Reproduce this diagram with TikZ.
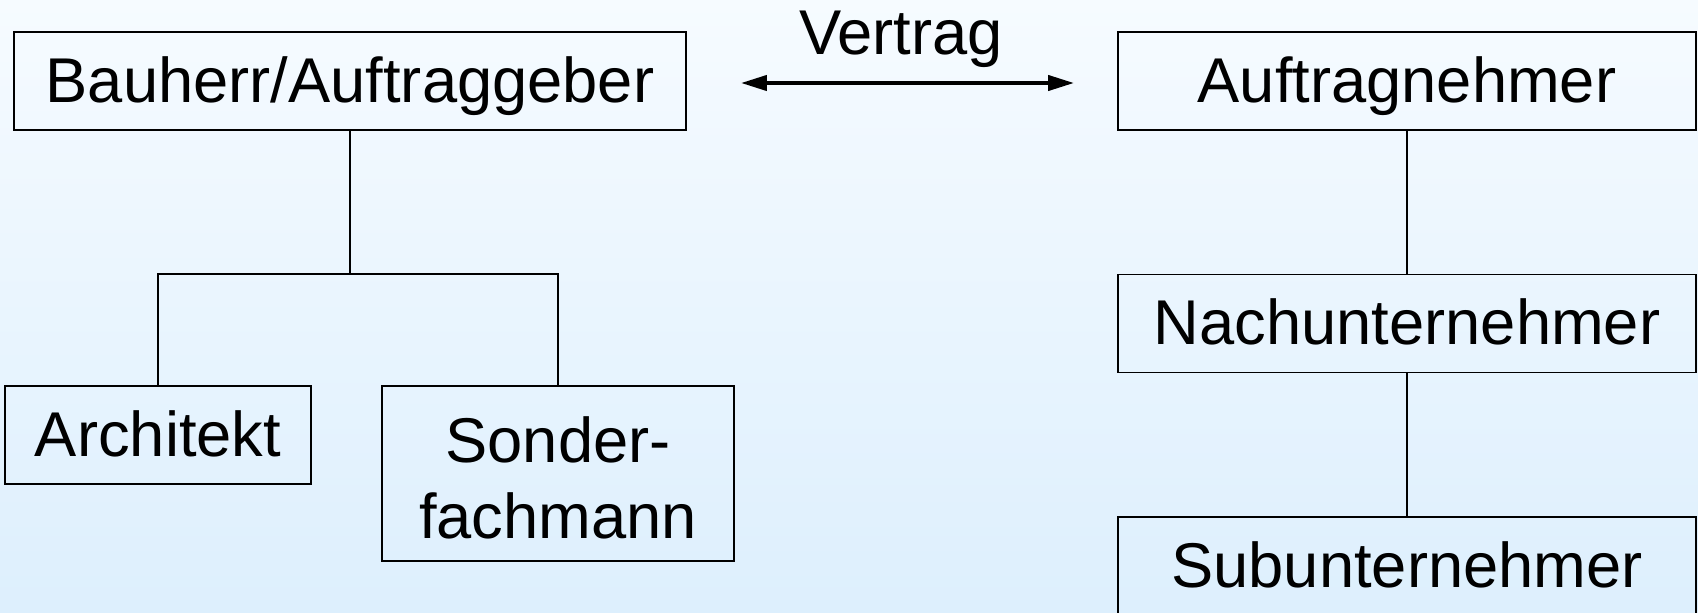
\documentclass[tikz,border=0pt]{standalone}
\usepackage{fontspec}
\setmainfont{Liberation Sans}
\usetikzlibrary{arrows.meta}
\definecolor{bgtop}{HTML}{F6FBFF}
\definecolor{bgbot}{HTML}{DDEFFD}
\tikzset{
	partei/.style={draw,line width=0.018cm,inner sep=0pt,align=center,
		minimum height=0.98cm,font=\fontsize{18}{21.5}\selectfont},
	einzeilig/.style={partei,text height=0.49cm,text depth=0.065cm},
	linie/.style={line width=0.014cm},
	vertrag/.style={line width=0.04cm,{Triangle[length=0.26cm,width=0.15cm]}-{Triangle[length=0.26cm,width=0.15cm]}}
}
\begin{document}
\begin{tikzpicture}
			\shade[top color=bgtop,bottom color=bgbot] (0,0) rectangle (16.98,-6.12);
			\useasboundingbox (0,0) rectangle (16.98,-6.12);
			
			% Auftraggeber-Seite
			\node[einzeilig,minimum width=6.72cm] (bau) at (3.50,-0.81) {Bauherr/Auftraggeber};
			\node[einzeilig,minimum width=3.06cm] (arch) at (1.58,-4.35) {Architekt};
			\node[partei,minimum width=3.52cm,minimum height=1.75cm,text height=1.29cm,text depth=0cm] (sond) at (5.58,-4.735) {Sonder-\\fachmann};
			\coordinate (gabel) at (3.50,-2.74);
			
			% Auftragnehmer-Seite
			\node[einzeilig,minimum width=5.78cm] (auf) at (14.07,-0.81) {Auftragnehmer};
			\node[einzeilig,minimum width=5.78cm] (nach) at (14.07,-3.235) {Nachunternehmer};
			\node[einzeilig,minimum width=5.78cm] (sub) at (14.07,-5.66) {Subunternehmer};
			
			% Vertrag
			\draw[vertrag,shorten <=0.54cm,shorten >=0.43cm] ([yshift=-0.02cm]bau.east) -- ([yshift=-0.02cm]auf.west);
			\node[anchor=base,font=\fontsize{18}{21.5}\selectfont] (vtext) at (9.01,-0.54) {Vertrag};
			
			\draw[linie] (bau.south) -- (gabel);
			\draw[linie] (arch.north) |- (gabel) -| (sond.north);
			\draw[linie] (auf.south) -- (nach.north);
			\draw[linie] (nach.south) -- (sub.north);
			
\end{tikzpicture}
\end{document}
